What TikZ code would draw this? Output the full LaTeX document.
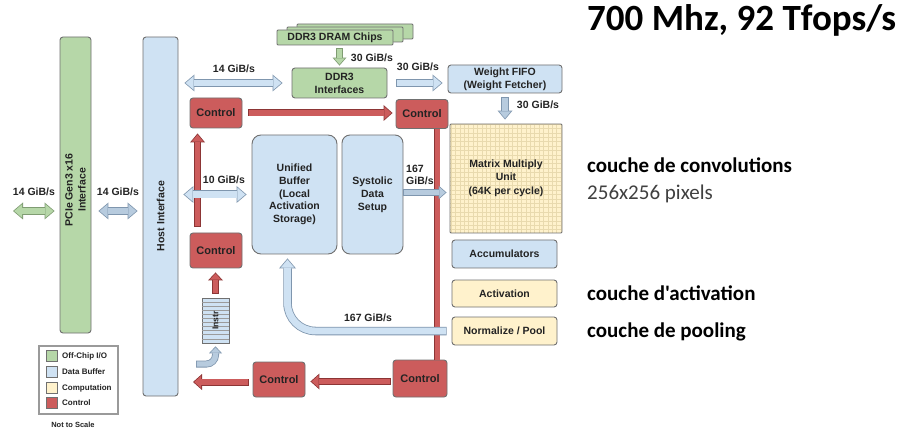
\documentclass[tikz,border=0pt]{standalone}
\usepackage{fontspec}
\setmainfont{Liberation Sans}
\newfontfamily\calfont{Carlito}
\usetikzlibrary{arrows.meta,calc}
\definecolor{gfill}{HTML}{B6D7A8}
\definecolor{bfill}{HTML}{CFE2F3}
\definecolor{yfill}{HTML}{FFF2CC}
\definecolor{rfill}{HTML}{CC5C5C}
\definecolor{boxedge}{HTML}{707070}
\definecolor{gedge}{HTML}{7F9C72}
\definecolor{bedge}{HTML}{7F96AE}
\definecolor{redge}{HTML}{8C3535}
\definecolor{gridc}{HTML}{E9DAAE}
\definecolor{txt}{HTML}{232323}
\definecolor{legedge}{HTML}{9A9A9A}
\newcommand\lbl{\fontsize{10.5}{12.8}\selectfont\bfseries}
\newcommand\SArrow[6]{%
  \pgfmathsetmacro\iwA{#1-1.6}\pgfmathsetmacro\iwB{#2-3.4}\pgfmathsetmacro\iwC{#3-2}%
  \draw[draw=#5, line width=#1pt, -{Triangle[width=#2pt,length=#3pt,line width=0pt]}] #6;
  \draw[draw=#4, line width=\iwA pt, shorten <=0.8pt, shorten >=1.2pt, -{Triangle[width=\iwB pt,length=\iwC pt,line width=0pt]}] #6;}
\newcommand\DArrow[6]{%
  \pgfmathsetmacro\iwA{#1-1.6}\pgfmathsetmacro\iwB{#2-3.4}\pgfmathsetmacro\iwC{#3-2}%
  \draw[draw=#5, line width=#1pt, {Triangle[width=#2pt,length=#3pt,line width=0pt]}-{Triangle[width=#2pt,length=#3pt,line width=0pt]}] #6;
  \draw[draw=#4, line width=\iwA pt, shorten <=1.2pt, shorten >=1.2pt, {Triangle[width=\iwB pt,length=\iwC pt,line width=0pt]}-{Triangle[width=\iwB pt,length=\iwC pt,line width=0pt]}] #6;}
\begin{document}
\begin{tikzpicture}[x=1pt,y=-1pt,
  box/.style={draw=boxedge, line width=0.9pt, rounded corners=3pt, inner sep=0pt, font=\lbl, text=txt, align=center},
  gbox/.style={box, fill=gfill},
  bbox/.style={box, fill=bfill},
  ybox/.style={box, fill=yfill},
  ctl/.style={box, fill=rfill, font=\fontsize{11}{13}\selectfont\bfseries, minimum width=52pt},
  lab/.style={inner sep=0pt, font=\lbl, text=txt, align=left},
  sw/.style={draw=boxedge, line width=0.6pt, minimum width=11pt, minimum height=11pt, inner sep=0pt},
  legtxt/.style={inner sep=0pt, anchor=west, font=\fontsize{8}{9}\selectfont\bfseries, text=txt},
  rtxt/.style={inner sep=0pt, anchor=base west, text=black}]
\fill[white] (0,0) rectangle (907,430);
\useasboundingbox (0,0) rectangle (907,430);

% ---- boxes
\node[gbox, minimum width=31pt, minimum height=296pt] (pcie) at (75.5,185) {};
\node[lab, align=center, rotate=90] (pcietxt) at (75.5,190) {PCIe Gen3 x16\\Interface};
\node[bbox, minimum width=35pt, minimum height=359pt] (host) at (160.5,216.5) {};
\node[lab, rotate=90] (hosttxt) at (160.5,216) {Host Interface};

\node[gbox, rounded corners=1pt, minimum width=116pt, minimum height=15pt] (chipc) at (355,31.5) {};
\node[gbox, rounded corners=1pt, minimum width=116pt, minimum height=15pt] (chipb) at (345,34.5) {};
\node[gbox, rounded corners=1pt, minimum width=116pt, minimum height=15pt] (chips) at (335,37.5) {DDR3 DRAM Chips};
\node[gbox, minimum width=95pt, minimum height=30pt] (ddr3) at (339.5,83) {DDR3\\Interfaces};
\node[bbox, minimum width=114pt, minimum height=28pt] (fifo) at (505,79) {Weight FIFO\\(Weight Fetcher)};

\node[ctl, minimum height=30pt] (ctl1) at (216,113) {Control};
\node[ctl, minimum height=29pt] (ctl2) at (422,114) {Control};
\node[ctl, minimum height=35pt] (ctl3) at (216,250.5) {Control};
\node[ctl, minimum height=35pt] (ctl4) at (279,379.5) {Control};
\node[ctl, minimum width=54pt, minimum height=37pt] (ctl5) at (420,378.5) {Control};

\node[bbox, rounded corners=9pt, minimum width=85pt, minimum height=119pt] (ub) at (294.5,194.5) {Unified\\Buffer\\(Local\\Activation\\Storage)};
\node[bbox, rounded corners=8pt, minimum width=61pt, minimum height=119pt] (sds) at (372.5,194.5) {Systolic\\Data\\Setup};

\node[ybox, rounded corners=1pt, minimum width=112pt, minimum height=109pt,
  path picture={\draw[gridc, line width=0.45pt, step=4.4pt] (path picture bounding box.south west) grid (path picture bounding box.north east);}]
  (mmu) at (506,178.5) {Matrix Multiply\\Unit\\[1pt](64K per cycle)};
\node[bbox, minimum width=105pt, minimum height=28pt] (acc) at (504.5,254) {Accumulators};
\node[ybox, minimum width=105pt, minimum height=27pt] (act) at (504.5,293.5) {Activation};
\node[ybox, minimum width=105pt, minimum height=28pt] (nrm) at (504.5,331) {Normalize / Pool};

\node[draw=boxedge, fill=bfill, line width=0.6pt, minimum width=27pt, minimum height=45pt, inner sep=0pt] (instr) at (215.5,320.5) {};
\foreach \k in {1,...,10} \draw[boxedge!70, line width=0.4pt] ($(instr.north west)+(0,\k*4.1)$) -- ($(instr.north east)+(0,\k*4.1)$);
\node[inner sep=0pt, rotate=90, font=\fontsize{8.5}{10}\selectfont\bfseries, text=txt] (instrtxt) at (instr.center) {Instr};

% ---- free ends
\coordinate (lfree) at (13,211);
\coordinate (cfree) at (193,382);
\coordinate (ifree) at (196,364);

% ---- control (red) connections
\draw[redge, line width=6pt] ([xshift=-11pt]ctl2.south east) -- ([xshift=-11pt]ctl2.south east |- ctl5.north);
\draw[rfill, line width=4.4pt] ([xshift=-11pt]ctl2.south east) -- ([xshift=-11pt]ctl2.south east |- ctl5.north);
\SArrow{7}{16}{9}{rfill}{redge}{([xshift=6pt]ctl1.east) -- ([xshift=-3pt]ctl1.east -| ctl2.west)}
\SArrow{6.5}{15}{9}{rfill}{redge}{([xshift=8pt,yshift=6pt]ctl3.north west) -- ([xshift=8pt,yshift=-5pt]ctl1.south west)}
\SArrow{7}{15}{8}{rfill}{redge}{([yshift=4pt]instr.north) -- ([yshift=-4pt]instr.north |- ctl3.south)}
\SArrow{7}{16}{9}{rfill}{redge}{([xshift=-2pt,yshift=-3pt]ctl5.west) -- ([xshift=5pt,yshift=-3pt]ctl5.west -| ctl4.east)}
\SArrow{7}{16}{9}{rfill}{redge}{([xshift=-4pt]ctl4.west |- cfree) -- (cfree)}

% ---- data connections
\DArrow{8}{17}{10}{gfill}{gedge}{(lfree) -- ([xshift=-5pt]lfree -| pcie.west)}
\DArrow{8}{17}{10}{bfill!70!bedge}{bedge}{([xshift=7pt]pcie.east |- lfree) -- ([xshift=-5pt]host.west |- lfree)}
\DArrow{8}{17}{10}{bfill}{bedge}{([xshift=6pt]host.east |- ddr3.west) -- ([xshift=-9pt]ddr3.west)}
\SArrow{7}{14}{8}{gfill}{gedge}{([yshift=-3pt]chips.south -| ddr3.north) -- ([yshift=2pt]ddr3.north)}
\SArrow{8}{17}{10}{bfill}{bedge}{([xshift=9pt]ddr3.east) -- ([xshift=-5pt]ddr3.east -| fifo.west)}
\SArrow{8}{15}{9}{bfill!70!bedge}{bedge}{([yshift=-4pt]fifo.south) -- ([yshift=4pt]fifo.south |- mmu.north)}
\DArrow{8}{17}{10}{bfill}{bedge}{([xshift=5pt]host.east |- ub.west) -- ([xshift=-5pt]ub.west)}
\SArrow{7}{14}{8}{bfill!70!bedge}{bedge}{([yshift=2pt]sds.east) -- ([xshift=-3pt,yshift=2pt]sds.east -| mmu.west)}
\SArrow{8.5}{17}{10}{bfill}{bedge}{([xshift=-5pt]nrm.west) [rounded corners=28pt] -| ([xshift=-7pt,yshift=-4pt]ub.south)}
\SArrow{7}{13}{7}{bfill!70!bedge}{bedge}{(ifree) [rounded corners=9pt] -| ([yshift=-3pt]instr.south)}

% ---- labels
\node[lab] (l14a) at (34,192) {14 GiB/s};
\node[lab] (l14b) at (118,192) {14 GiB/s};
\node[lab] (l14c) at (234,69) {14 GiB/s};
\node[lab] (l30a) at (372,58) {30 GiB/s};
\node[lab] (l30b) at (418,67) {30 GiB/s};
\node[lab] (l30c) at (538,105) {30 GiB/s};
\node[lab] (l10) at (224,180) {10 GiB/s};
\node[lab, anchor=west] (l167a) at (406,175) {167\\GiB/s};
\node[lab] (l167b) at (368,318) {167 GiB/s};

% ---- legend
\node[draw=legedge, line width=1.4pt, minimum width=79pt, minimum height=68pt, inner sep=0pt] (leg) at (78.5,380) {};
\node[sw, fill=gfill] (sw1) at (51.5,356) {};
\node[sw, fill=bfill] (sw2) at (51.5,372) {};
\node[sw, fill=yfill] (sw3) at (51.5,388) {};
\node[sw, fill=rfill] (sw4) at (51.5,403) {};
\node[legtxt] (lt1) at (62,356) {Off-Chip I/O};
\node[legtxt] (lt2) at (62,372) {Data Buffer};
\node[legtxt] (lt3) at (62,388) {Computation};
\node[legtxt] (lt4) at (62,403) {Control};
\node[inner sep=0pt, font=\fontsize{7.5}{9}\selectfont\bfseries, text=txt] (nts) at (73,425) {Not to Scale};

% ---- right-hand text
\node[rtxt, font=\calfont\fontsize{37}{40}\selectfont\bfseries] (title) at (587,31) {700 Mhz, 92 Tfops/s};
\node[rtxt, font=\calfont\fontsize{21}{24}\selectfont\bfseries] (conv) at (587,173) {couche de convolutions};
\node[rtxt, font=\calfont\fontsize{21}{24}\selectfont, text=black!75] (pix) at (587,200) {256x256 pixels};
\node[rtxt, font=\calfont\fontsize{21}{24}\selectfont\bfseries] (actv) at (587,300) {couche d'activation};
\node[rtxt, font=\calfont\fontsize{21}{24}\selectfont\bfseries] (pool) at (587,337) {couche de pooling};
\end{tikzpicture}
\end{document}
